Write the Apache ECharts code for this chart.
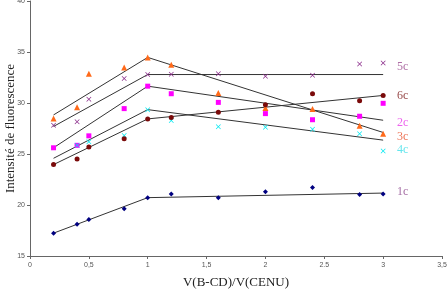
<!DOCTYPE html>
<html>
<head>
<meta charset="utf-8">
<script src="https://cdn.jsdelivr.net/npm/echarts@6/dist/echarts.min.js"></script>
<style>
  html, body { margin: 0; padding: 0; background: #fff; }
  #main { width: 448px; height: 291px; }
</style>
</head>
<body>
<div id="main"></div>
<script>
// rapports V(B-CD)/V(CENU)
var ratios = [0.2, 0.4, 0.5, 0.8, 1, 1.2, 1.6, 2, 2.4, 2.8, 3];

// intensités mesurées
var c1 = [17.24, 18.12, 18.57, 19.64, 20.72, 21.07, 20.72, 21.3, 21.72, 21.04, 21.07];
var c2 = [25.61, 25.85, 26.78, 29.45, 31.65, 30.91, 30.06, 28.96, 28.36, 28.7, 29.97];
var c3 = [28.48, 29.58, 32.86, 33.47, 34.47, 33.76, 30.97, 29.51, 29.41, 27.76, 26.98];
var c4 = [null, 25.85, 26.2, 26.82, 29.35, 28.28, 27.66, 27.63, 27.43, 26.98, 25.29];
var c5 = [27.82, 28.15, 30.36, 32.4, 32.79, 32.82, 32.86, 32.62, 32.72, 33.83, 33.93];
var c6 = [23.96, 24.51, 25.68, 26.49, 28.44, 28.57, 29.09, 29.84, 30.91, 30.23, 30.74];

// droites de tendance (deux segments, cassure à 1)
var trendX = [0.2, 1, 3];
var t1 = [17.24, 20.72, 21.17];
var t2 = [25.61, 31.65, 28.31];
var t3 = [28.83, 34.47, 27.11];
var t4 = [24.58, 29.35, 26.36];
var t5 = [27.7, 32.79, 32.79];
var t6 = [23.96, 28.44, 30.74];

// étiquettes à droite
var labelNames = ['5c', '6c', '2c', '3c', '4c', '1c'];
var labelY = [33.54, 30.7, 28.1, 26.72, 25.37, 21.3];
var labelX = 3.1;

var yTicks = [15, 20, 25, 30, 35, 40];
var xTickText = { '0': '0', '0.5': '0,5', '1': '1', '1.5': '1,5', '2': '2', '2.5': '2.5', '3': '3', '3.5': '3,5' };

var crossPath = 'path://M0,1L1,0L5,4L9,0L10,1L6,5L10,9L9,10L5,6L1,10L0,9L4,5Z';

function pts(ys, xs) {
	var out = [];
	for (var i = 0; i < ys.length; i++) {
		if (ys[i] != null) out.push([xs[i], ys[i]]);
	}
	return out;
}

function pointSeries(name, ys, symbol, size, color) {
	return {
		name: name,
		type: 'scatter',
		data: pts(ys, ratios),
		symbol: symbol,
		symbolSize: size,
		itemStyle: { color: color, opacity: 1 },
		z: 3
	};
}

function trendSeries(ys) {
	return {
		type: 'line',
		data: pts(ys, trendX),
		symbol: 'none',
		lineStyle: { color: '#333', width: 1 },
		z: 2,
		silent: true
	};
}

var labelColors = ['#9b4a8f', '#7a1616', '#e83ce8', '#e8502c', '#3fe0e8', '#8e4a8e'];
var labelData = labelNames.map(function (n, i) {
	return {
		value: [labelX, labelY[i]],
		label: { formatter: n, color: labelColors[i] }
	};
});

var myChart = echarts.init(document.getElementById('main'));
var option = {
	animation: false,
	grid: { left: 30, right: 6, top: 1, bottom: 35, containLabel: false, outerBoundsMode: 'none' },
	xAxis: {
		type: 'value',
		min: 0,
		max: 3.5,
		interval: 0.5,
		name: 'V(B-CD)/V(CENU)',
		nameLocation: 'middle',
		nameGap: 20,
		nameMoveOverlap: false,
		nameTextStyle: { fontFamily: 'Liberation Serif', fontSize: 13, color: '#222' },
		splitLine: { show: false },
		axisLine: { lineStyle: { color: '#666', width: 1 } },
		axisTick: { show: true, length: 3, lineStyle: { color: '#666' } },
		axisLabel: {
			fontSize: 7,
			color: '#555',
			margin: 6,
			formatter: function (v) { return xTickText[String(v)] || String(v); }
		}
	},
	yAxis: {
		type: 'value',
		min: yTicks[0],
		max: yTicks[yTicks.length - 1],
		interval: 5,
		name: 'Intensité de fluorescence',
		nameLocation: 'middle',
		nameGap: 13,
		nameMoveOverlap: false,
		nameTextStyle: { fontFamily: 'Liberation Serif', fontSize: 13, color: '#222' },
		splitLine: { show: false },
		axisLine: { show: true, lineStyle: { color: '#666', width: 1 } },
		axisTick: { show: true, length: 3, lineStyle: { color: '#666' } },
		axisLabel: { fontSize: 7, color: '#555', margin: 5 }
	},
	series: [
		trendSeries(t1), trendSeries(t2), trendSeries(t3),
		trendSeries(t4), trendSeries(t5), trendSeries(t6),
		pointSeries('1c', c1, 'diamond', 5, '#000080'),
		pointSeries('2c', c2, 'rect', 5, '#ff00ff'),
		pointSeries('3c', c3, 'triangle', 6, '#ff6a1a'),
		pointSeries('4c', c4, crossPath, 5, '#00e8f0'),
		pointSeries('5c', c5, crossPath, 5, '#8a2a8a'),
		pointSeries('6c', c6, 'circle', 5, '#7a0a0a'),
		{
			type: 'scatter',
			data: labelData,
			symbolSize: 0,
			silent: true,
			label: {
				show: true,
				position: 'right',
				distance: 2,
				fontFamily: 'Liberation Serif',
				fontSize: 12
			}
		}
	]
};
myChart.setOption(option);
</script>
</body>
</html>
